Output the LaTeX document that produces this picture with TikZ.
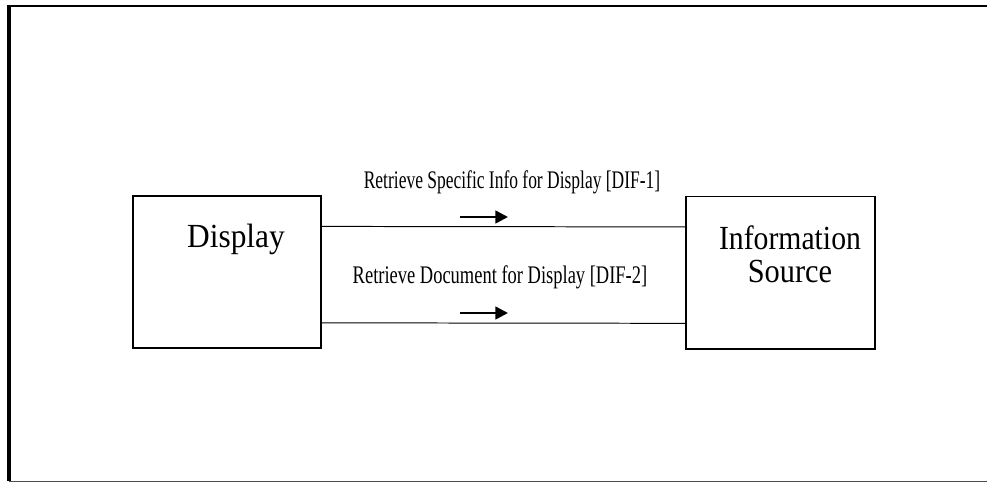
\documentclass[tikz,border=0pt]{standalone}
\usepackage{fontspec}
\setmainfont{Liberation Serif}
\usetikzlibrary{positioning,calc,arrows.meta}

\begin{document}
\begin{tikzpicture}[x=0.025cm,y=-0.025cm,
        block/.style={rectangle, draw, line width=1.4pt, minimum width=4.7cm, minimum height=3.8cm, inner sep=0pt},
        boxtext/.style={font=\fontsize{24}{24}\selectfont, inner sep=0pt, anchor=base},
        flowtext/.style={font=\fontsize{18}{18}\selectfont, inner sep=0pt, anchor=base},
        flow/.style={line width=0.7pt},
        dirarrow/.style={line width=1.8pt, -{Triangle[length=9pt,width=9pt]}}]
        \useasboundingbox (0,0) rectangle (987,483);
        % outer frame
        \draw [line width=2.8pt] (9,5) -- (9,481);
        \draw [line width=1.4pt] (8,6) -- (987,6);
        \draw [line width=0.7pt, black!70] (9,481) -- (987,481);

        \node [block] (disp) at (227,272) {};
        \node [block] (info) at (780.5,272.5) {};
        \node [boxtext] (disptext) at (236,247) {\scalebox{0.93}[1]{Display}};
        \node [boxtext] (infotext) at (790,249) {\scalebox{0.88}[1]{Information}};
        \node [boxtext] (srctext) at (790,282) {\scalebox{0.9}[1]{Source}};

        \draw [flow] ($(disp.north east)!0.204!(disp.south east)$) -- ($(info.north west)!0.204!(info.south west)$);
        \draw [flow] ($(disp.north east)!0.83!(disp.south east)$) -- ($(info.north west)!0.83!(info.south west)$);

        \node [flowtext] (dif1) at (512,188) {\scalebox{0.69}[1]{Retrieve Specific Info for Display [DIF-1]}};
        \node [flowtext] (dif2) at (500,283) {\scalebox{0.73}[1]{Retrieve Document for Display [DIF-2]}};

        \coordinate (dif1s) at (460,217);
        \coordinate (dif1e) at (508,217);
        \coordinate (dif2s) at (460,313);
        \coordinate (dif2e) at (508,313);
        \draw [dirarrow] (dif1s) -- (dif1e);
        \draw [dirarrow] (dif2s) -- (dif2e);
    \end{tikzpicture}
\end{document}
